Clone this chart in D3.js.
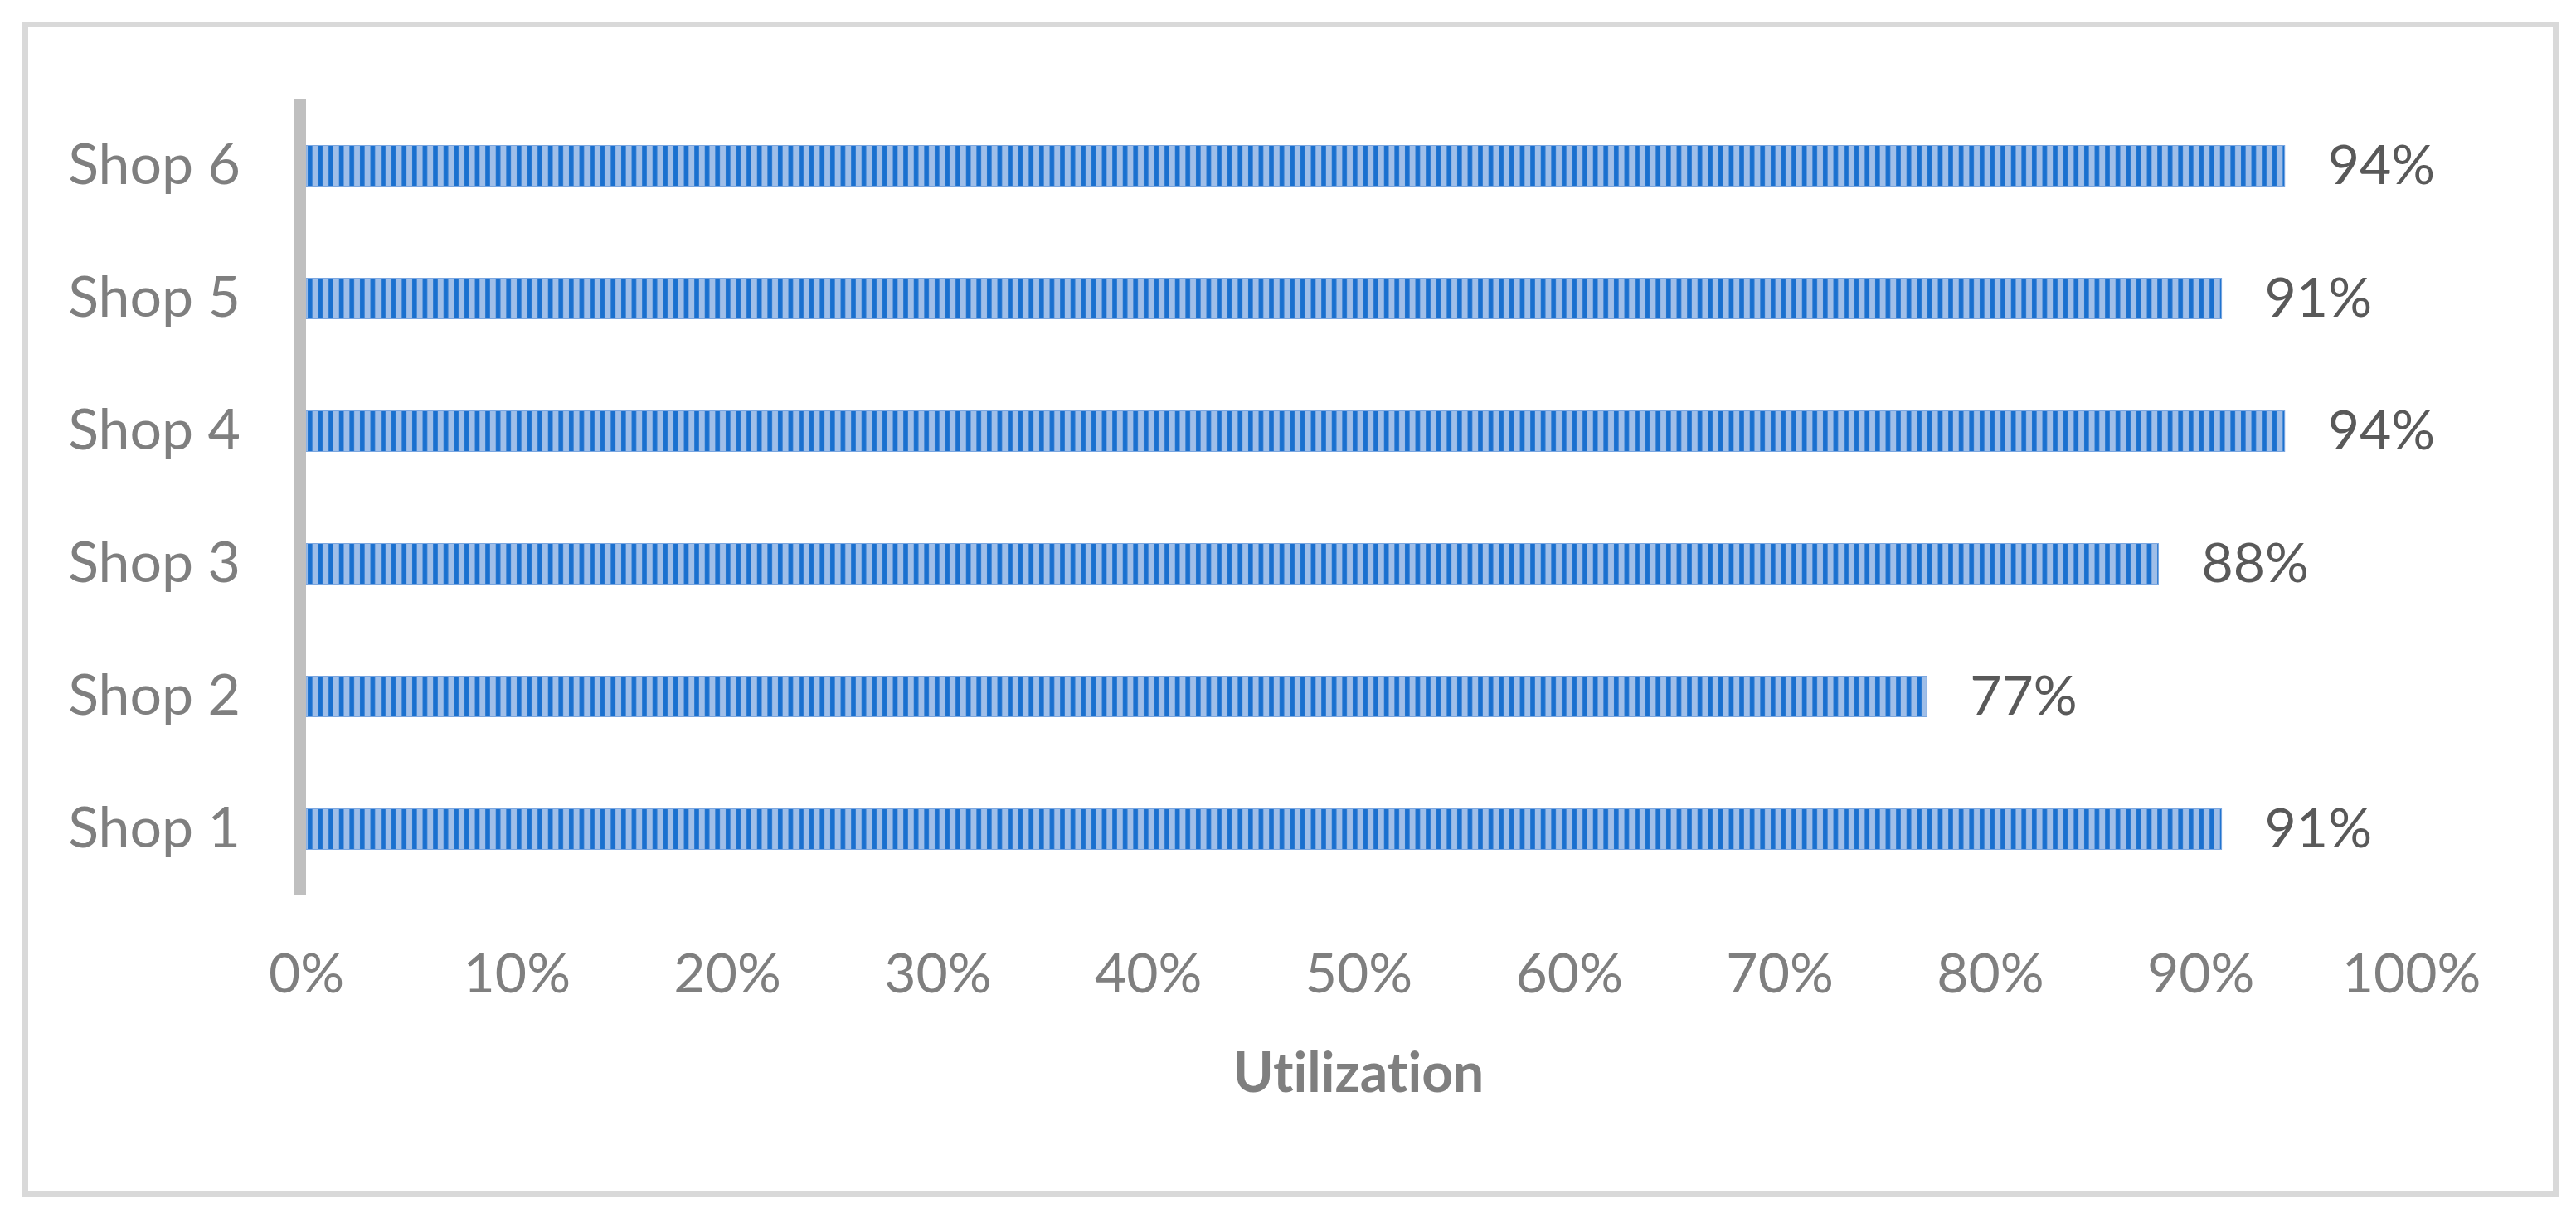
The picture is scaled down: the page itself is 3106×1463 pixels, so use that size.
<!DOCTYPE html>
<html>
<head>
<meta charset="utf-8">
<script src="https://cdn.jsdelivr.net/npm/d3@7"></script>
<style>
  body { margin: 0; background: #fff; }
  svg text { font-family: Lato, "Open Sans", sans-serif; font-variant-ligatures: none; }
</style>
</head>
<body>
<div id="chart"></div>
<script>
const shops = ["Shop 1", "Shop 2", "Shop 3", "Shop 4", "Shop 5", "Shop 6"];
const utilization = [0.91, 0.77, 0.88, 0.94, 0.91, 0.94];
const xTicks = [0, 0.1, 0.2, 0.3, 0.4, 0.5, 0.6, 0.7, 0.8, 0.9, 1];
const axisTitle = "Utilization";

const width = 3106;
const height = 1463;
const plot = { left: 369, right: 2907, top: 120, bottom: 1080 };

const svg = d3.select("#chart").append("svg")
  .attr("width", width)
  .attr("height", height);

// striped fill like the excel "dark vertical" pattern
const defs = svg.append("defs");
const pat = defs.append("pattern")
  .attr("id", "stripes")
  .attr("patternUnits", "userSpaceOnUse")
  .attr("x", plot.left)
  .attr("width", 12.6)
  .attr("height", 20);
pat.append("rect").attr("width", 12.6).attr("height", 20).attr("fill", "#9fbee8");
pat.append("rect").attr("x", 2).attr("width", 5.6).attr("height", 20).attr("fill", "#1a70cf");

// outer frame
svg.append("rect")
  .attr("x", 30.5)
  .attr("y", 29.5)
  .attr("width", 3051)
  .attr("height", 1411)
  .attr("fill", "none")
  .attr("stroke", "#d9d9d9")
  .attr("stroke-width", 7);

const x = d3.scaleLinear().domain([0, 1]).range([plot.left, plot.right]);
const y = d3.scaleBand()
  .domain(shops.slice().reverse())
  .range([plot.top, plot.bottom])
  .paddingInner(0.694)
  .paddingOuter(0.347);

// bars
svg.append("g").selectAll("rect")
  .data(shops)
  .join("rect")
  .attr("x", x(0))
  .attr("y", d => y(d))
  .attr("width", (d, i) => x(utilization[i]) - x(0))
  .attr("height", y.bandwidth())
  .attr("fill", "url(#stripes)")
  .attr("stroke", "#7aa6e0")
  .attr("stroke-width", 1);

// value labels
svg.append("g").selectAll("text")
  .data(shops)
  .join("text")
  .attr("x", (d, i) => x(utilization[i]) + 52)
  .attr("y", d => y(d) + y.bandwidth() / 2)
  .attr("dy", "0.33em")
  .attr("fill", "#595959")
  .style("font-size", "66px")
  .text((d, i) => d3.format(".0%")(utilization[i]));

// category axis
const yAxis = svg.append("g")
  .attr("transform", `translate(${plot.left - 7},0)`)
  .call(d3.axisLeft(y).tickSize(0).tickPadding(72));
yAxis.select(".domain")
  .attr("stroke", "#bfbfbf")
  .attr("stroke-width", 14)
  .attr("d", `M0,${plot.top}V${plot.bottom}`);
yAxis.selectAll("text")
  .attr("fill", "#7f7f7f")
  .attr("dy", "0.33em")
  .style("font-size", "68px");

// value axis (no line, labels only)
const xAxis = svg.append("g")
  .attr("transform", `translate(0,${plot.bottom})`)
  .call(d3.axisBottom(x).tickValues(xTicks).tickFormat(d3.format(".0%")).tickSize(0).tickPadding(70));
xAxis.select(".domain").remove();
xAxis.selectAll("text")
  .attr("fill", "#7f7f7f")
  .style("font-size", "66px");

// axis title
svg.append("text")
  .attr("x", (plot.left + plot.right) / 2)
  .attr("y", 1317)
  .attr("text-anchor", "middle")
  .attr("fill", "#7f7f7f")
  .style("font-size", "66px")
  .style("font-weight", "bold")
  .text(axisTitle);
</script>
</body>
</html>
